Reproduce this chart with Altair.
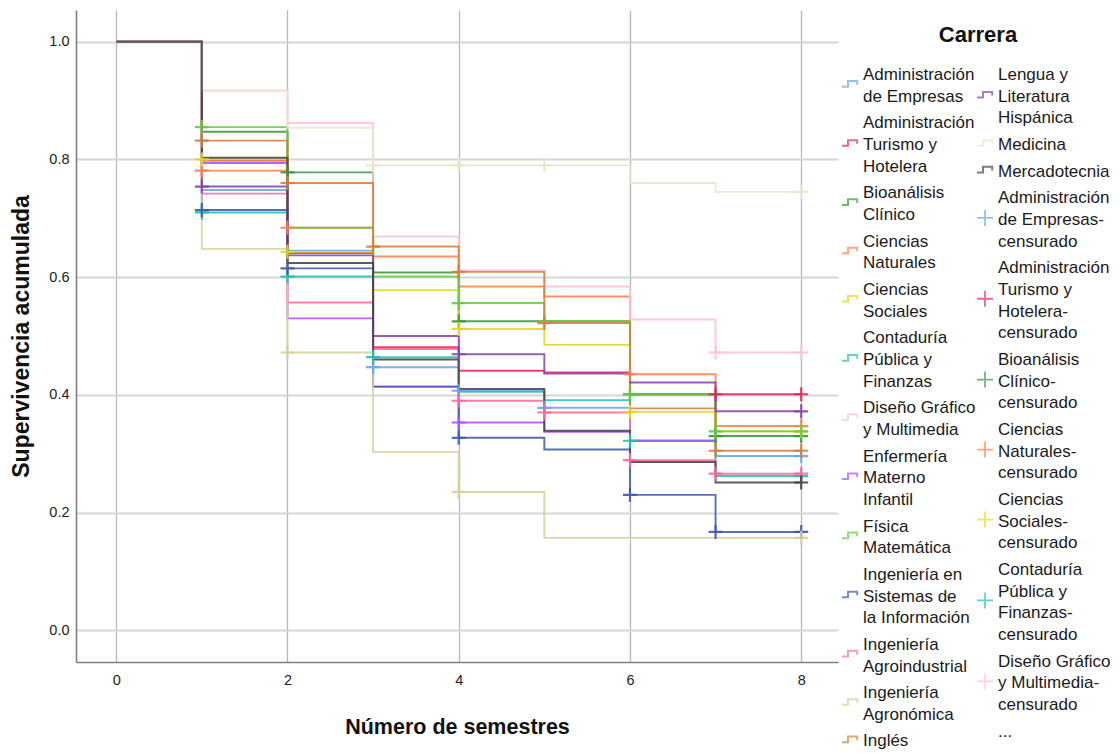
import altair as alt
import pandas as pd

FONT = "Liberation Sans"

# ---------------- data ----------------
times = [0, 1, 2, 3, 4, 5, 6, 7, 8]

carreras = [
    "Administración de Empresas",
    "Administración Turismo y Hotelera",
    "Bioanálisis Clínico",
    "Ciencias Naturales",
    "Ciencias Sociales",
    "Contaduría Pública y Finanzas",
    "Diseño Gráfico y Multimedia",
    "Enfermería Materno Infantil",
    "Física Matemática",
    "Ingeniería en Sistemas de la Información",
    "Ingeniería Agroindustrial",
    "Ingeniería Agronómica",
    "Inglés",
    "Lengua y Literatura Hispánica",
    "Medicina",
    "Mercadotecnia",
]

colores = [
    "#6aa6ee", "#e2285a", "#3a983a", "#ff7f50", "#e4d81c", "#22c2b0",
    "#ffc2d8", "#b050ff", "#66cc44", "#3d5cae", "#ff6aa0", "#d8d09a",
    "#d4803e", "#8a44aa", "#ece4cc", "#444444",
]

# survival value on [t, t+1) for t = 0..7, last value repeated at the end of follow-up
surv_adm_empresas = [1.0, 0.748, 0.645, 0.447, 0.407, 0.378, 0.322, 0.296, 0.296]
surv_adm_turismo = [1.0, 0.798, 0.641, 0.481, 0.441, 0.438, 0.401, 0.401, 0.401]
surv_bioanalisis = [1.0, 0.847, 0.778, 0.608, 0.525, 0.525, 0.401, 0.330, 0.330]
surv_cien_naturales = [1.0, 0.781, 0.684, 0.635, 0.584, 0.567, 0.435, 0.347, 0.347]
surv_cien_sociales = [1.0, 0.800, 0.643, 0.578, 0.512, 0.485, 0.371, 0.338, 0.338]
surv_contaduria = [1.0, 0.710, 0.601, 0.464, 0.405, 0.391, 0.322, 0.262, 0.262]
surv_diseno = [1.0, 0.917, 0.862, 0.669, 0.612, 0.584, 0.528, 0.472, 0.472]
surv_enfermeria = [1.0, 0.794, 0.530, 0.414, 0.353, 0.337, 0.322, 0.322]
surv_fisica = [1.0, 0.855, 0.684, 0.601, 0.556, 0.525, 0.401, 0.338, 0.338]
surv_ing_sistemas = [1.0, 0.714, 0.615, 0.414, 0.327, 0.307, 0.230, 0.167, 0.167]
surv_agroindustrial = [1.0, 0.742, 0.557, 0.478, 0.390, 0.370, 0.289, 0.266, 0.266]
surv_agronomica = [1.0, 0.648, 0.472, 0.303, 0.235, 0.157, 0.157, 0.157, 0.157]
surv_ingles = [1.0, 0.832, 0.760, 0.652, 0.609, 0.522, 0.377, 0.305, 0.305]
surv_lengua = [1.0, 0.754, 0.637, 0.500, 0.469, 0.436, 0.421, 0.372, 0.372]
surv_medicina = [1.0, 0.917, 0.854, 0.790, 0.790, 0.790, 0.760, 0.745, 0.745]
surv_mercadotecnia = [1.0, 0.803, 0.624, 0.460, 0.410, 0.339, 0.286, 0.251, 0.251]

# times (semesters) at which a censored case is marked
cens_adm_empresas = [3, 4, 5, 8]
cens_adm_turismo = [7, 8]
cens_bioanalisis = [2, 4, 6, 7, 8]
cens_cien_naturales = [1, 2, 6, 8]
cens_cien_sociales = [1, 2, 4, 6, 8]
cens_contaduria = [1, 2, 3, 6, 8]
cens_diseno = [7, 8]
cens_enfermeria = [4]
cens_fisica = [1, 4, 5, 6, 7, 8]
cens_ing_sistemas = [1, 2, 4, 6, 7, 8]
cens_agroindustrial = [4, 5, 6, 7, 8]
cens_agronomica = [2, 4, 8]
cens_ingles = [1, 2, 3, 4, 5, 7, 8]
cens_lengua = [1, 4, 8]
cens_medicina = [3, 4, 5, 8]
cens_mercadotecnia = [8]

surv_lists = [
    surv_adm_empresas, surv_adm_turismo, surv_bioanalisis, surv_cien_naturales,
    surv_cien_sociales, surv_contaduria, surv_diseno, surv_enfermeria, surv_fisica,
    surv_ing_sistemas, surv_agroindustrial, surv_agronomica, surv_ingles,
    surv_lengua, surv_medicina, surv_mercadotecnia,
]
cens_lists = [
    cens_adm_empresas, cens_adm_turismo, cens_bioanalisis, cens_cien_naturales,
    cens_cien_sociales, cens_contaduria, cens_diseno, cens_enfermeria, cens_fisica,
    cens_ing_sistemas, cens_agroindustrial, cens_agronomica, cens_ingles,
    cens_lengua, cens_medicina, cens_mercadotecnia,
]

# legend texts
legend_col1 = [
    ("Administración de Empresas", "line", ["Administración", "de Empresas"]),
    ("Administración Turismo y Hotelera", "line", ["Administración", "Turismo y", "Hotelera"]),
    ("Bioanálisis Clínico", "line", ["Bioanálisis", "Clínico"]),
    ("Ciencias Naturales", "line", ["Ciencias", "Naturales"]),
    ("Ciencias Sociales", "line", ["Ciencias", "Sociales"]),
    ("Contaduría Pública y Finanzas", "line", ["Contaduría", "Pública y", "Finanzas"]),
    ("Diseño Gráfico y Multimedia", "line", ["Diseño Gráfico", "y Multimedia"]),
    ("Enfermería Materno Infantil", "line", ["Enfermería", "Materno", "Infantil"]),
    ("Física Matemática", "line", ["Física", "Matemática"]),
    ("Ingeniería en Sistemas de la Información", "line", ["Ingeniería en", "Sistemas de", "la Información"]),
    ("Ingeniería Agroindustrial", "line", ["Ingeniería", "Agroindustrial"]),
    ("Ingeniería Agronómica", "line", ["Ingeniería", "Agronómica"]),
    ("Inglés", "line", ["Inglés"]),
]
legend_col2 = [
    ("Lengua y Literatura Hispánica", "line", ["Lengua y", "Literatura", "Hispánica"]),
    ("Medicina", "line", ["Medicina"]),
    ("Mercadotecnia", "line", ["Mercadotecnia"]),
    ("Administración de Empresas", "cens", ["Administración", "de Empresas-", "censurado"]),
    ("Administración Turismo y Hotelera", "cens", ["Administración", "Turismo y", "Hotelera-", "censurado"]),
    ("Bioanálisis Clínico", "cens", ["Bioanálisis", "Clínico-", "censurado"]),
    ("Ciencias Naturales", "cens", ["Ciencias", "Naturales-", "censurado"]),
    ("Ciencias Sociales", "cens", ["Ciencias", "Sociales-", "censurado"]),
    ("Contaduría Pública y Finanzas", "cens", ["Contaduría", "Pública y", "Finanzas-", "censurado"]),
    ("Diseño Gráfico y Multimedia", "cens", ["Diseño Gráfico", "y Multimedia-", "censurado"]),
    (None, "none", ["..."]),
]

# ---------------- tables ----------------
line_rows, cens_rows = [], []
for name, s, c in zip(carreras, surv_lists, cens_lists):
    for t, v in zip(times, s):
        line_rows.append({"carrera": name, "t": t, "s": v})
    for t in c:
        cens_rows.append({"carrera": name, "t": t, "s": s[t]})
lines_df = pd.DataFrame(line_rows)
cens_df = pd.DataFrame(cens_rows)

LINE_STEP = 21.7
ENTRY_STEP = 26.6
FIRST_LINE = 65.0
sym_rows, txt_rows = [], []
for col, entries in enumerate([legend_col1, legend_col2]):
    y = FIRST_LINE
    for name, kind, texts in entries:
        y0 = y
        for i, tx in enumerate(texts):
            txt_rows.append({"col": col, "y": y, "text": tx})
            if i < len(texts) - 1:
                y += LINE_STEP
        center = (y0 + y) / 2 - 2
        if kind != "none":
            sym_rows.append({"col": col, "y": center, "carrera": name, "kind": kind})
        y += ENTRY_STEP
sym_df = pd.DataFrame(sym_rows)
txt_df = pd.DataFrame(txt_rows)
title_df = pd.DataFrame([{"col": 0.948, "y": 25.0, "text": "Carrera"}])

# ---------------- main chart ----------------
color_scale = alt.Scale(domain=carreras, range=colores)
x_scale = alt.Scale(domain=[-0.47, 8.43], nice=False, zero=False)
y_scale = alt.Scale(domain=[-0.054, 1.054], nice=False, zero=False)

x_axis = alt.Axis(
    values=[0, 2, 4, 6, 8], format="d", title="Número de semestres", grid=True,
    gridColor="#b8b8b8", gridWidth=1.3, domainColor="#808080", domainWidth=1.6,
    ticks=False, labelFontSize=14.5, labelPadding=11, labelColor="#222222",
    titleFontSize=21.5, titleFontWeight="bold", titlePadding=30, titleColor="#111111",
)
y_axis = alt.Axis(
    values=[0, 0.2, 0.4, 0.6, 0.8, 1.0], format=".1f", title="Supervivencia acumulada",
    grid=True, gridColor="#d6d6d6", gridWidth=2.2, domainColor="#808080", domainWidth=1.6,
    ticks=False, labelFontSize=14.5, labelPadding=7, labelColor="#222222",
    titleFontSize=23, titleFontWeight="bold", titlePadding=15, titleColor="#111111",
)

CROSS = "M-1,0H1M0,-1V1"
STEP = "M-1,0.35H-0.25V-0.35H0.9V0.1"

lines = alt.Chart(lines_df).mark_line(
    interpolate="step-after", strokeWidth=1.9, opacity=0.88
).encode(
    x=alt.X("t:Q", scale=x_scale, axis=x_axis),
    y=alt.Y("s:Q", scale=y_scale, axis=y_axis),
    color=alt.Color("carrera:N", scale=color_scale, legend=None),
    detail="carrera:N",
    order="t:Q",
)
marks = alt.Chart(cens_df).mark_point(
    shape=CROSS, filled=False, strokeWidth=2.2, size=196, opacity=0.9
).encode(
    x=alt.X("t:Q", scale=x_scale),
    y=alt.Y("s:Q", scale=y_scale),
    color=alt.Color("carrera:N", scale=color_scale, legend=None),
)
main = alt.layer(lines, marks).properties(width=762, height=652)

# ---------------- legend panel ----------------
lx = alt.Scale(domain=[0, 1], range=[11, 146])
ly = alt.Scale(domain=[0, 740], range=[0, 740])

leg_lines = alt.Chart(sym_df).transform_filter(alt.datum.kind == "line").mark_point(
    shape=STEP, filled=False, strokeWidth=2, size=256
).encode(
    x=alt.X("col:Q", scale=lx, axis=None),
    y=alt.Y("y:Q", scale=ly, axis=None),
    color=alt.Color("carrera:N", scale=color_scale, legend=None),
)
leg_cens = alt.Chart(sym_df).transform_filter(alt.datum.kind == "cens").mark_point(
    shape=CROSS, filled=False, strokeWidth=1.8, size=256
).encode(
    x=alt.X("col:Q", scale=lx, axis=None),
    y=alt.Y("y:Q", scale=ly, axis=None),
    color=alt.Color("carrera:N", scale=color_scale, legend=None),
)
leg_text = alt.Chart(txt_df).mark_text(
    align="left", baseline="middle", fontSize=17, dx=13, color="#1a1a1a", font=FONT
).encode(
    x=alt.X("col:Q", scale=lx, axis=None),
    y=alt.Y("y:Q", scale=ly, axis=None),
    text="text:N",
)
leg_title = alt.Chart(title_df).mark_text(
    align="center", baseline="middle", fontSize=22, fontWeight="bold", color="#111111", font=FONT
).encode(
    x=alt.X("col:Q", scale=lx, axis=None),
    y=alt.Y("y:Q", scale=ly, axis=None),
    text="text:N",
)
legend = alt.layer(leg_lines, leg_cens, leg_text, leg_title).properties(width=272, height=652)

chart = alt.hconcat(main, legend, spacing=0).properties(
    padding={"left": 10, "top": 10, "right": 0, "bottom": 0}
).configure_view(stroke=None).configure_axis(
    labelFont=FONT, titleFont=FONT
).configure_text(font=FONT)

chart.save("out.html", embed_options={"renderer": "svg", "actions": False})
